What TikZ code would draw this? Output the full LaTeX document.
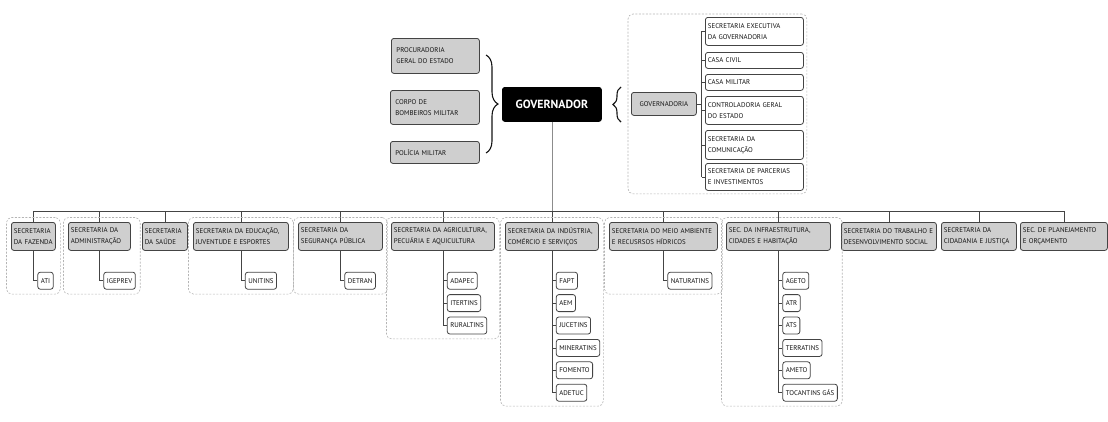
\documentclass[tikz,border=0pt]{standalone}
\usepackage{fontspec}
\setmainfont{PT Sans}
\usetikzlibrary{calc,fit,decorations.pathreplacing}
\definecolor{boxgray}{HTML}{CFCFCF}
\definecolor{boxline}{HTML}{444444}
\definecolor{grpline}{HTML}{B4B4B4}
\definecolor{govline}{HTML}{8C8C8C}
\definecolor{txt}{HTML}{141414}
\tikzset{
  orgbox/.style={draw=boxline, line width=0.8pt, rounded corners=2.5pt, anchor=north west,
    align=left, inner xsep=2.5pt, inner ysep=0pt, text=txt, font=\fontsize{6.9}{11}\selectfont},
  secbox/.style={orgbox, fill=boxgray, minimum height=28pt},
  subbox/.style={orgbox, fill=white, inner xsep=3pt, minimum height=17pt},
  grp/.style={draw=grpline, dashed, dash pattern=on 2pt off 1.5pt, rounded corners=5pt,
    line width=0.6pt, inner sep=4.5pt},
  link/.style={draw=boxline, line width=0.8pt},
}
\begin{document}
\begin{tikzpicture}[x=1pt,y=-1pt]
  \useasboundingbox (0,0) rectangle (1108,421);
  % governador and the bodies at his side
  \node[orgbox, fill=black, draw=black, text=white, align=center, inner xsep=0pt,
    minimum width=99pt, minimum height=34pt,
    font=\fontsize{11.8}{13}\selectfont\bfseries] (gov) at (502,87) {GOVERNADOR};
  \node[secbox, inner xsep=5pt, text width=78pt, minimum height=35pt] (pge) at (391,38) {PROCURADORIA\\GERAL DO ESTADO};
  \node[secbox, inner xsep=5pt, text width=79pt, minimum height=34pt] (cbm) at (390,90) {CORPO DE\\BOMBEIROS MILITAR};
  \node[secbox, inner xsep=5pt, text width=79pt, minimum height=22pt] (pm) at (390,141) {POLÍCIA MILITAR};
  \draw[decorate, decoration={brace, amplitude=12pt}, line width=1.1pt, draw=txt] (486,55) -- (486,153);
  \draw[decorate, decoration={brace, amplitude=8pt}, line width=1.1pt, draw=txt] (621,122) -- (621,87);

  % governadoria
  \node[secbox, align=center, text width=60pt, minimum height=23pt] (gvd) at (631,92) {GOVERNADORIA};
  \node[subbox, inner xsep=2.5pt, text width=93pt, minimum height=28pt] (sege) at (705,17) {SECRETARIA EXECUTIVA\\DA GOVERNADORIA};
  \node[subbox, inner xsep=2.5pt, text width=93pt, minimum height=16pt] (civ) at (705,52) {CASA CIVIL};
  \node[subbox, inner xsep=2.5pt, text width=93pt, minimum height=16pt] (mil) at (705,74) {CASA MILITAR};
  \node[subbox, inner xsep=2.5pt, text width=93pt, minimum height=28pt] (cge) at (705,96) {CONTROLADORIA GERAL\\DO ESTADO};
  \node[subbox, inner xsep=2.5pt, text width=93pt, minimum height=29pt] (com) at (705,130) {SECRETARIA DA\\COMUNICAÇÃO};
  \node[subbox, inner xsep=2.5pt, text width=93pt, minimum height=27pt] (spi) at (705,163) {SECRETARIA DE PARCERIAS\\E INVESTIMENTOS};
  \coordinate (trk) at (701.5,0);
  \draw[link] (gvd.east) -- (gvd.east -| trk);
  \draw[link] (sege.west -| trk) -- (spi.west -| trk);
  \foreach \n in {sege,civ,mil,cge,com,spi}
    \draw[link] (\n.west -| trk) -- (\n.west);
  \node[grp, fit=(gvd)(sege)(spi), inner sep=3pt] (gvdgrp) {};

  % secretarias
  \node[secbox, text width=39pt] (faz) at (11,222) {SECRETARIA\\DA FAZENDA};
  \node[secbox, text width=57pt] (adm) at (68,222) {SECRETARIA DA\\ADMINISTRAÇÃO};
  \node[secbox, text width=40pt] (sau) at (142,222) {SECRETARIA\\DA SAÚDE};
  \node[secbox, text width=90pt] (edu) at (193,222) {SECRETARIA DA EDUCAÇÃO,\\JUVENTUDE E ESPORTES};
  \node[secbox, text width=79pt] (seg) at (298,222) {SECRETARIA DA\\SEGURANÇA PÚBLICA};
  \node[secbox, text width=98pt] (agr) at (391,222) {SECRETARIA DA AGRICULTURA,\\PECUÁRIA E AQUICULTURA};
  \node[secbox, text width=88pt] (ind) at (505,222) {SECRETARIA DA INDÚSTRIA,\\COMÉRCIO E SERVIÇOS};
  \node[secbox, text width=103pt] (mei) at (609,222) {SECRETARIA DO MEIO AMBIENTE\\E RECUSRSOS HÍDRICOS};
  \node[secbox, text width=99pt] (inf) at (726,222) {SEC. DA INFRAESTRUTURA,\\CIDADES E HABITAÇÃO};
  \node[secbox, text width=90pt] (tra) at (841,222) {SECRETARIA DO TRABALHO E\\DESENVOLVIMENTO SOCIAL};
  \node[secbox, text width=70pt] (cid) at (941,222) {SECRETARIA DA\\CIDADANIA E JUSTIÇA};
  \node[secbox, text width=82pt] (pla) at (1020,222) {SEC. DE PLANEJAMENTO\\E ORÇAMENTO};

  \coordinate (bus) at (0,211);
  \draw[link, draw=govline] (gov.south) -- (gov.south |- bus);
  \draw[link] (faz.north |- bus) -- (pla.north |- bus);
  \foreach \n in {faz,adm,sau,edu,seg,agr,ind,mei,inf,tra,cid,pla}
    \draw[link] (\n.north |- bus) -- (\n.north);

  % vinculadas
  \node[subbox] (ati) at ($(faz.south)+(4,21)$) {ATI};
  \draw[link] (faz.south) |- (ati.west);
  \node[subbox] (igeprev) at ($(adm.south)+(4,21)$) {IGEPREV};
  \draw[link] (adm.south) |- (igeprev.west);
  \node[subbox] (unitins) at ($(edu.south)+(4,21)$) {UNITINS};
  \draw[link] (edu.south) |- (unitins.west);
  \node[subbox] (detran) at ($(seg.south)+(4,21)$) {DETRAN};
  \draw[link] (seg.south) |- (detran.west);
  \node[subbox] (naturatins) at ($(mei.south)+(4,21)$) {NATURATINS};
  \draw[link] (mei.south) |- (naturatins.west);
  \foreach \n/\t [count=\i from 0] in {adapec/ADAPEC,itertins/ITERTINS,ruraltins/RURALTINS}{
    \node[subbox] (\n) at ($(agr.south)+(4,21+22.4*\i)$) {\t};
    \draw[link] (agr.south) |- (\n.west);
  }
  \foreach \n/\t [count=\i from 0] in {fapt/FAPT,aem/AEM,jucetins/JUCETINS,mineratins/MINERATINS,fomento/FOMENTO,adetuc/ADETUC}{
    \node[subbox] (\n) at ($(ind.south)+(4,21+22.4*\i)$) {\t};
    \draw[link] (ind.south) |- (\n.west);
  }
  \foreach \n/\t [count=\i from 0] in {ageto/AGETO,atr/ATR,ats/ATS,terratins/TERRATINS,ameto/AMETO,tgas/TOCANTINS GÁS}{
    \node[subbox] (\n) at ($(inf.south)+(4,21+22.4*\i)$) {\t};
    \draw[link] (inf.south) |- (\n.west);
  }

  % grupos
  \node[grp, fit=(faz)(ati)] (fazgrp) {};
  \node[grp, fit=(adm)(igeprev)] (admgrp) {};
  \node[grp, fit=(edu)(unitins)] (edugrp) {};
  \node[grp, fit=(seg)(detran)] (seggrp) {};
  \node[grp, fit=(agr)(ruraltins)] (agrgrp) {};
  \node[grp, fit=(ind)(adetuc)] (indgrp) {};
  \node[grp, fit=(mei)(naturatins)] (meigrp) {};
  \node[grp, fit=(inf)(tgas)] (infgrp) {};
\end{tikzpicture}
\end{document}
